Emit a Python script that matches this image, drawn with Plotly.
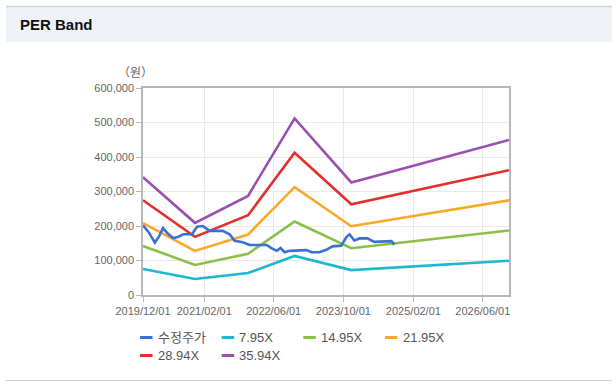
import plotly.graph_objects as go

# ---------------- data ----------------
price_dates = [
    "2019-12-01", "2020-01-13", "2020-02-22", "2020-03-22", "2020-04-19", "2020-05-22",
    "2020-06-28", "2020-08-01", "2020-09-07", "2020-11-07", "2020-12-13", "2021-01-22",
    "2021-03-10", "2021-06-10", "2021-07-28", "2021-09-01", "2021-10-28", "2021-12-16",
    "2022-02-04", "2022-04-13", "2022-05-16", "2022-06-22", "2022-07-19", "2022-08-16",
    "2022-09-19", "2022-11-16", "2023-01-16", "2023-02-22", "2023-04-16", "2023-06-04",
    "2023-07-16", "2023-09-16", "2023-10-22", "2023-11-13", "2023-12-16", "2024-01-22",
    "2024-03-16", "2024-05-04", "2024-07-25", "2024-09-01", "2024-09-22",
]
price_values = [
    202000, 180000, 152000, 170000, 194000, 178000,
    165000, 168000, 176000, 176000, 198000, 200000,
    186000, 186000, 176000, 157000, 153000, 145000,
    145000, 145000, 136000, 128000, 136000, 124000,
    128000, 130000, 130000, 124000, 124000, 131000,
    141000, 143000, 168000, 176000, 158000, 164000,
    164000, 154000, 154000, 156000, 146000,
]

band_dates = ["2019-12-01", "2020-11-28", "2021-12-04", "2022-10-25", "2023-11-25", "2026-12-01"]
band_7_95 = [75400, 46300, 63500, 113300, 72200, 99400]
band_14_95 = [141900, 87000, 119500, 213000, 135700, 186900]
band_21_95 = [208300, 127700, 175400, 312800, 199300, 274400]
band_28_94 = [274600, 168400, 231200, 412400, 262800, 361800]
band_35_94 = [341100, 209200, 287200, 512100, 326300, 449300]

series_names = ["수정주가", "7.95X", "14.95X", "21.95X", "28.94X", "35.94X"]
series_colors = ["#3a70d2", "#1cb8cf", "#8cbf48", "#f8a92a", "#e2302a", "#9b4fb1"]

x_tick_vals = ["2019-12-01", "2021-02-01", "2022-06-01", "2023-10-01", "2025-02-01", "2026-06-01"]
x_tick_text = ["2019/12/01", "2021/02/01", "2022/06/01", "2023/10/01", "2025/02/01", "2026/06/01"]
x_range = ["2019-12-01", "2026-12-01"]
y_range = [0, 600000]

title_text = "PER Band"
unit_text = "（원）"

# ---------------- figure ----------------
W, H = 616, 386
L, R, T, B = 143, 107, 88, 91
PW, PH = W - L - R, H - T - B


def px_x(px):
    return (px - L) / PW


def px_y(py):
    return (H - B - py) / PH


FONT = "Arial, 'Liberation Sans', 'Noto Sans CJK KR', sans-serif"

fig = go.Figure()

band_series = [band_7_95, band_14_95, band_21_95, band_28_94, band_35_94]
for i, vals in enumerate(band_series):
    fig.add_trace(go.Scatter(
        x=band_dates, y=vals, mode="lines", name=series_names[i + 1],
        line=dict(color=series_colors[i + 1], width=2.6), showlegend=False,
        hoverinfo="x+y",
    ))

fig.add_trace(go.Scatter(
    x=price_dates, y=price_values, mode="lines", name=series_names[0],
    line=dict(color=series_colors[0], width=2.6), showlegend=False,
))

shapes = []
annotations = []

# header band
shapes.append(dict(type="rect", xref="paper", yref="paper",
                   x0=px_x(6), x1=px_x(612), y0=px_y(42), y1=px_y(7),
                   fillcolor="#eff2f6", line=dict(width=0), layer="below"))
shapes.append(dict(type="line", xref="paper", yref="paper",
                   x0=px_x(6), x1=px_x(612), y0=px_y(6.5), y1=px_y(6.5),
                   line=dict(color="#d4d4d4", width=1.5)))
shapes.append(dict(type="line", xref="paper", yref="paper",
                   x0=px_x(6), x1=px_x(612), y0=px_y(380.5), y1=px_y(380.5),
                   line=dict(color="#d0d0d0", width=1.2)))

annotations.append(dict(text=f"<b>{title_text}</b>", xref="paper", yref="paper",
                        x=px_x(18), y=px_y(24.5), xanchor="left", yanchor="middle",
                        showarrow=False, font=dict(family=FONT, size=15, color="#111111")))
annotations.append(dict(text=unit_text, xref="paper", yref="paper",
                        x=px_x(135), y=px_y(73), xanchor="center", yanchor="middle",
                        showarrow=False, font=dict(family=FONT, size=12, color="#666666")))

# custom legend (compact columns like the reference)
col_x = [140, 221.7, 303.3, 385]
row_y = [337.5, 355.5]
legend_order = [0, 1, 2, 3, 4, 5]
for k, idx in enumerate(legend_order):
    cx = col_x[k % 4]
    cy = row_y[k // 4]
    shapes.append(dict(type="line", xref="paper", yref="paper",
                       x0=px_x(cx), x1=px_x(cx + 12.5), y0=px_y(cy), y1=px_y(cy),
                       line=dict(color=series_colors[idx], width=3)))
    annotations.append(dict(text=series_names[idx], xref="paper", yref="paper",
                            x=px_x(cx + 15.5), y=px_y(cy), xanchor="left", yanchor="middle",
                            showarrow=False,
                            font=dict(family=FONT, size=13, color="#555555")))

fig.update_layout(
    width=W, height=H,
    margin=dict(l=L, r=R, t=T, b=B, pad=0),
    paper_bgcolor="#ffffff", plot_bgcolor="#ffffff",
    showlegend=False,
    shapes=shapes, annotations=annotations,
    font=dict(family=FONT, size=11, color="#666666"),
)
fig.update_xaxes(
    type="date", range=x_range, tickmode="array", tickvals=x_tick_vals, ticktext=x_tick_text,
    showgrid=True, gridcolor="#e9e9e9", gridwidth=1,
    showline=True, linecolor="#b8b8b8", linewidth=1.5, mirror=True,
    ticks="outside", ticklen=5, tickcolor="#b8b8b8",
    tickfont=dict(family=FONT, size=11, color="#666666"), zeroline=False,
)
fig.update_yaxes(
    range=y_range, dtick=100000, tickformat=",d",
    showgrid=True, gridcolor="#e9e9e9", gridwidth=1,
    showline=True, linecolor="#b8b8b8", linewidth=1.5, mirror=True,
    ticks="outside", ticklen=5, tickcolor="#b8b8b8",
    tickfont=dict(family=FONT, size=11, color="#666666"), zeroline=False,
)

fig.write_html(
    "out.html",
    config={"displayModeBar": False},
    post_script="document.body.style.margin='0px';document.body.style.overflow='hidden';",
)
